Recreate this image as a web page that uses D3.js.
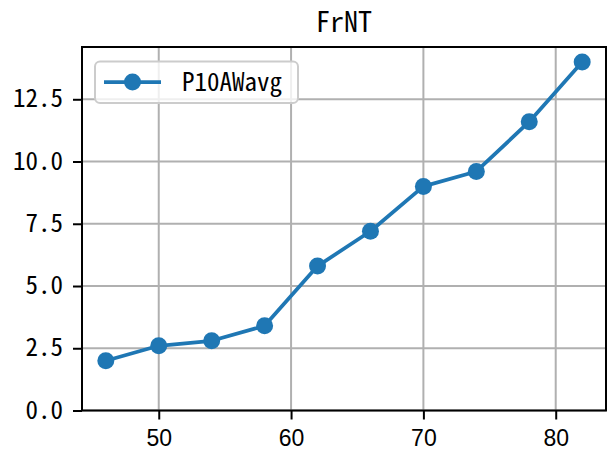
<!DOCTYPE html>
<html><head><meta charset="utf-8">
<script src="https://cdn.jsdelivr.net/npm/d3@7/dist/d3.min.js"></script>
<style>
html,body{margin:0;padding:0;background:#fff;}
svg{display:block;}
</style></head>
<body>
<svg id="chart" width="607" height="454"></svg>
<script>
const title = "FrNT";
const seriesName = "P10AWavg";
const xValues = [46, 50, 54, 58, 62, 66, 70, 74, 78, 82];
const yValues = [2.0, 2.6, 2.8, 3.4, 5.8, 7.2, 9.0, 9.6, 11.6, 14.0];
const xTicks = [50, 60, 70, 80];
const yTicks = [0, 2.5, 5, 7.5, 10, 12.5];
const yTickLabels = ["0.0", "2.5", "5.0", "7.5", "10.0", "12.5"];

const monoFont = '"Noto Sans Mono CJK SC", "Noto Sans CJK SC", "DejaVu Sans Mono", monospace';
const color = "#1f77b4";
const L = 82, R = 606, T = 47, B = 410.5;

const svg = d3.select("#chart");
const x = d3.scaleLinear().domain([44.2, 83.8]).range([L, R]);
const y = d3.scaleLinear().domain([0, 14.6]).range([B, T]);

// grid
svg.append("g").selectAll("line").data(xTicks).join("line")
  .attr("x1", d => x(d)).attr("x2", d => x(d)).attr("y1", T).attr("y2", B)
  .attr("stroke", "#b0b0b0").attr("stroke-width", 2);
svg.append("g").selectAll("line").data(yTicks).join("line")
  .attr("x1", L).attr("x2", R).attr("y1", d => y(d)).attr("y2", d => y(d))
  .attr("stroke", "#b0b0b0").attr("stroke-width", 2);

// axes
const xAxis = d3.axisBottom(x).tickValues(xTicks).tickSize(9).tickPadding(10).tickFormat(d3.format("d"));
const gx = svg.append("g").attr("transform", `translate(0,${B})`).call(xAxis);
gx.select(".domain").remove();
gx.selectAll(".tick line").attr("stroke", "#000").attr("stroke-width", 2);
gx.selectAll(".tick text").attr("font-family", '"Liberation Sans", Arial, sans-serif')
  .attr("font-size", 23).attr("fill", "#000");

const yAxis = d3.axisLeft(y).tickValues(yTicks).tickSize(9).tickPadding(10)
  .tickFormat((d, i) => yTickLabels[i]);
const gy = svg.append("g").attr("transform", `translate(${L},0)`).call(yAxis);
gy.select(".domain").remove();
gy.selectAll(".tick line").attr("stroke", "#000").attr("stroke-width", 2);
gy.selectAll(".tick text").attr("font-family", monoFont)
  .attr("font-size", 25).attr("fill", "#000").attr("dy", "0.3em");

// spines
svg.append("rect").attr("x", L).attr("y", T).attr("width", R - L).attr("height", B - T)
  .attr("fill", "none").attr("stroke", "#000").attr("stroke-width", 2);

// line + markers
const line = d3.line().x((d, i) => x(xValues[i])).y(d => y(d));
svg.append("path").datum(yValues).attr("d", line)
  .attr("fill", "none").attr("stroke", color).attr("stroke-width", 3.75)
  .attr("stroke-linejoin", "round");
svg.append("g").selectAll("circle").data(yValues).join("circle")
  .attr("cx", (d, i) => x(xValues[i])).attr("cy", d => y(d)).attr("r", 8.5)
  .attr("fill", color);

// title
svg.append("text").attr("x", (L + R) / 2).attr("y", 32).attr("text-anchor", "middle")
  .attr("font-family", monoFont).attr("font-size", 28).attr("fill", "#000").text(title);

// legend
const lg = svg.append("g");
lg.append("rect").attr("x", 95).attr("y", 61.5).attr("width", 203).attr("height", 41.5)
  .attr("rx", 5).attr("fill", "rgba(255,255,255,0.8)").attr("stroke", "#cccccc").attr("stroke-width", 2);
lg.append("line").attr("x1", 104).attr("x2", 161).attr("y1", 82).attr("y2", 82)
  .attr("stroke", color).attr("stroke-width", 3.75);
lg.append("circle").attr("cx", 132.5).attr("cy", 82).attr("r", 8.5).attr("fill", color);
lg.append("text").attr("x", 182).attr("y", 82).attr("dy", "0.35em")
  .attr("font-family", monoFont).attr("font-size", 25).attr("fill", "#000").text(seriesName);
</script>
</body></html>
